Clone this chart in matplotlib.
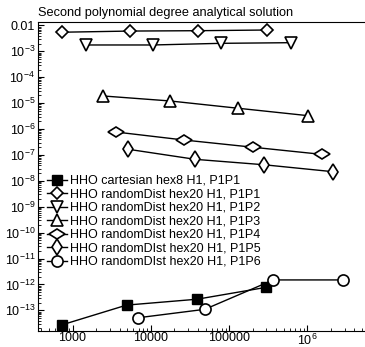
import matplotlib
matplotlib.use("Agg")
import matplotlib.pyplot as plt
from matplotlib.markers import MarkerStyle
from matplotlib.transforms import Affine2D
from matplotlib.ticker import LogLocator, NullFormatter

plt.rcParams['font.family'] = ['Liberation Sans', 'DejaVu Sans']
plt.rcParams['mathtext.fontset'] = 'custom'
plt.rcParams['mathtext.rm'] = 'Liberation Sans'
plt.rcParams['mathtext.it'] = 'Liberation Sans:italic'

# data
sq_x = [729, 4900, 39000, 300000]
sq_y = [2.75e-14, 1.6e-13, 2.7e-13, 7.8e-13]
p1_x = [730, 5400, 40000, 307000]
p1_y = [5.5e-3, 6.1e-3, 6.3e-3, 6.7e-3]
p2_x = [1490, 10600, 79000, 617000]
p2_y = [1.77e-3, 1.77e-3, 2.05e-3, 2.17e-3]
p3_x = [2470, 17600, 129000, 1.02e6]
p3_y = [1.9e-5, 1.22e-5, 6.4e-6, 3.3e-6]
p4_x = [3600, 26300, 200000, 1.52e6]
p4_y = [7.7e-7, 3.8e-7, 2.0e-7, 1.06e-7]
p5_x = [5160, 37000, 279000, 2.14e6]
p5_y = [1.66e-7, 6.8e-8, 4.2e-8, 2.26e-8]
p6_x = [6900, 49000, 367000, 2.88e6]
p6_y = [5.2e-14, 1.1e-13, 1.5e-12, 1.5e-12]

labels = ["HHO cartesian hex8 H1, P1P1",
          "HHO randomDist hex20 H1, P1P1",
          "HHO randomDist hex20 H1, P1P2",
          "HHO randomDist hex20 H1, P1P3",
          "HHO randomDist hex20 H1, P1P4",
          "HHO randomDIst hex20 H1, P1P5",
          "HHO randomDIst hex20 H1, P1P6"]

xticks = [1e3, 1e4, 1e5, 1e6]
xticklabels = ["1000", "10000", "100000", "$10^6$"]
yticks = [10.0**e for e in range(-2, -14, -1)]
yticklabels = ["0.01"] + ["$10^{%d}$" % e for e in range(-3, -14, -1)]

fig = plt.figure(figsize=(3.65, 3.47), dpi=100)
ax = fig.add_axes([0.1041, 0.0461, 0.8959, 0.8905])

flat_diamond = MarkerStyle('d', transform=Affine2D().rotate_deg(90))

ax.plot(sq_x, sq_y, '-', color='k', lw=1, marker='s', ms=6.5, mfc='k', mec='k', label=labels[0])
ax.plot(p1_x, p1_y, '-', color='k', lw=1, marker='D', ms=6, mfc='w', mec='k', mew=1.2, label=labels[1])
ax.plot(p2_x, p2_y, '-', color='k', lw=1, marker='v', ms=8, mfc='w', mec='k', mew=1.2, label=labels[2])
ax.plot(p3_x, p3_y, '-', color='k', lw=1, marker='^', ms=8, mfc='w', mec='k', mew=1.2, label=labels[3])
ax.plot(p4_x, p4_y, '-', color='k', lw=1, marker=flat_diamond, ms=8.5, mfc='w', mec='k', mew=1.2, label=labels[4])
ax.plot(p5_x, p5_y, '-', color='k', lw=1, marker='d', ms=8.5, mfc='w', mec='k', mew=1.2, label=labels[5])
ax.plot(p6_x, p6_y, '-', color='k', lw=1, marker='o', ms=8, mfc='w', mec='k', mew=1.2, label=labels[6])

ax.set_xscale('log')
ax.set_yscale('log')
ax.set_xlim(362, 5.45e6)
ax.set_ylim(1.6e-14, 0.01365)

ax.set_xticks(xticks)
ax.set_xticklabels(xticklabels)
ax.set_yticks(yticks)
ax.set_yticklabels(yticklabels)
ax.xaxis.set_minor_locator(LogLocator(subs=range(2, 10), numticks=100))
ax.yaxis.set_minor_locator(LogLocator(subs=range(2, 10), numticks=100))
ax.xaxis.set_minor_formatter(NullFormatter())
ax.yaxis.set_minor_formatter(NullFormatter())
ax.tick_params(which='both', direction='in', labelsize=9, pad=2)
ax.tick_params(axis='x', pad=1)
ax.tick_params(which='major', length=4)
ax.tick_params(which='minor', length=2)
ax.tick_params(top=False, right=False)
ax.spines['right'].set_visible(False)

ax.set_title("Second polynomial degree analytical solution", fontsize=9.2, loc='left', pad=4)

ax.legend(loc='upper left', bbox_to_anchor=(0.028, 0.505), frameon=False, fontsize=9,
          handlelength=1.6, handletextpad=0.25, labelspacing=0.12, borderpad=0, borderaxespad=0)

fig.savefig("out.png", dpi=100)
